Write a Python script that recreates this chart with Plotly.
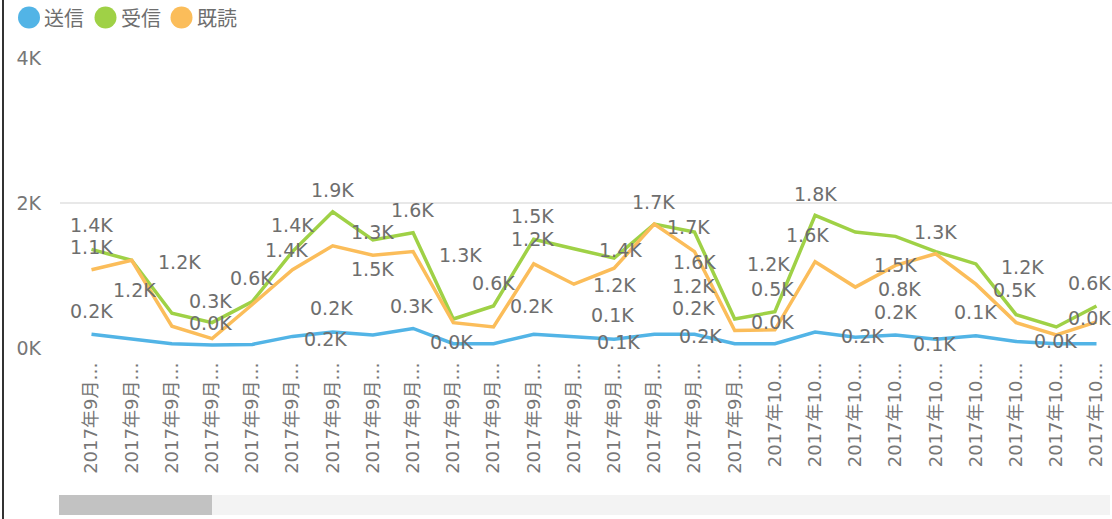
import plotly.graph_objects as go

# categories (truncated day labels as shown on the axis)
days = ['2017年9月…'] * 17 + ['2017年10…'] * 9

# values in K
sent = [0.19, 0.12, 0.06, 0.04, 0.05, 0.16, 0.22, 0.18, 0.27, 0.06, 0.06, 0.19, 0.15,
        0.12, 0.19, 0.19, 0.06, 0.06, 0.22, 0.15, 0.18, 0.12, 0.17, 0.09, 0.06, 0.06]
received = [1.36, 1.21, 0.48, 0.35, 0.64, 1.33, 1.88, 1.49, 1.59, 0.40, 0.58, 1.50, 1.37,
            1.24, 1.71, 1.60, 0.40, 0.50, 1.83, 1.60, 1.54, 1.33, 1.16, 0.46, 0.29, 0.58]
read = [1.08, 1.21, 0.30, 0.13, 0.60, 1.08, 1.41, 1.28, 1.33, 0.35, 0.29, 1.16, 0.88,
        1.10, 1.71, 1.33, 0.24, 0.25, 1.19, 0.84, 1.14, 1.30, 0.88, 0.35, 0.18, 0.36]

series_names = ['送信', '受信', '既読']
colors = ['#52b4e6', '#9fd146', '#fbbd5a']

# data labels as they appear (category index, K position, text)
lab_x = [0, 0, 0, 1.06, 2.18, 2.95, 2.95, 3.99, 5.01, 4.86, 6.0, 5.98, 5.81, 6.99, 6.99,
         7.99, 7.97, 9.17, 9.99, 8.96, 10.98, 10.98, 10.95, 13.15, 13.02, 12.97, 13.1,
         13.99, 14.84, 15.0, 14.98, 14.98, 15.15, 16.83, 16.95, 16.95, 18.0, 17.82, 19.17,
         20.0, 20.1, 19.99, 20.98, 21.0, 22.0, 23.15, 22.97, 23.97, 24.83, 24.83]
lab_y = [1.69, 1.39, 0.51, 0.80, 1.18, 0.65, 0.35, 0.96, 1.70, 1.35, 2.18, 0.55, 0.12,
         1.60, 1.09, 1.90, 0.58, 1.28, 0.89, 0.08, 1.82, 1.50, 0.58, 1.35, 0.87, 0.46,
         0.08, 2.01, 1.67, 1.19, 0.85, 0.55, 0.16, 1.16, 0.82, 0.36, 2.12, 1.56, 0.16,
         1.14, 0.82, 0.50, 0.06, 1.60, 0.50, 1.12, 0.80, 0.09, 0.89, 0.41]
lab_text = ['1.4K', '1.1K', '0.2K', '1.2K', '1.2K', '0.3K', '0.0K', '0.6K', '1.4K', '1.4K',
            '1.9K', '0.2K', '0.2K', '1.3K', '1.5K', '1.6K', '0.3K', '1.3K', '0.6K', '0.0K',
            '1.5K', '1.2K', '0.2K', '1.4K', '1.2K', '0.1K', '0.1K', '1.7K', '1.7K', '1.6K',
            '1.2K', '0.2K', '0.2K', '1.2K', '0.5K', '0.0K', '1.8K', '1.6K', '0.2K', '1.5K',
            '0.8K', '0.2K', '0.1K', '1.3K', '0.1K', '1.2K', '0.5K', '0.0K', '0.6K', '0.0K']

W, H = 1112, 519
ML, MR, MT, MB = 60, 0, 58, 171
PW, PH = W - ML - MR, H - MT - MB


def px_x(p):
    return (p - ML) / PW


def px_y(p):
    return (H - MB - p) / PH


xs = list(range(len(days)))
fig = go.Figure()
for name, vals, col in zip(series_names, [sent, received, read], colors):
    fig.add_trace(go.Scatter(
        x=xs, y=vals, mode='lines', name=name,
        line=dict(color=col, width=3.5),
        hoverinfo='skip', showlegend=False
    ))

label_font = dict(family='DejaVu Sans', size=19, color='#6e6e6e')
annotations = []
for lx, ly, lt in zip(lab_x, lab_y, lab_text):
    annotations.append(dict(x=lx, y=ly, xref='x', yref='y', text=lt, showarrow=False,
                            xanchor='center', yanchor='middle', font=label_font))

# legend drawn by hand (round swatches like the original)
shapes = []
legend_cx = [29, 105.5, 181.5]
for cx, name, col in zip(legend_cx, series_names, colors):
    shapes.append(dict(type='circle', xref='paper', yref='paper',
                       xsizemode='pixel', ysizemode='pixel',
                       xanchor=px_x(cx), yanchor=px_y(17.5),
                       x0=-11, x1=11, y0=-11, y1=11,
                       fillcolor=col, line=dict(width=0)))
    annotations.append(dict(x=px_x(cx + 13), y=px_y(17), xref='paper', yref='paper',
                            text=name, showarrow=False, xanchor='left', yanchor='middle',
                            font=dict(family='Noto Sans CJK JP', size=20, color='#6e6e6e')))

# scrollbar track + thumb
shapes.append(dict(type='rect', xref='paper', yref='paper', layer='below',
                   x0=px_x(59), x1=px_x(1110), y0=px_y(515), y1=px_y(495),
                   fillcolor='#f3f3f3', line=dict(width=0)))
shapes.append(dict(type='rect', xref='paper', yref='paper', layer='below',
                   x0=px_x(59), x1=px_x(212), y0=px_y(515), y1=px_y(495),
                   fillcolor='#c2c2c2', line=dict(width=0)))
# left frame edge
shapes.append(dict(type='line', xref='paper', yref='paper',
                   x0=px_x(3), x1=px_x(3), y0=px_y(0), y1=px_y(519),
                   line=dict(color='#333333', width=2)))

fig.update_layout(
    width=W, height=H,
    margin=dict(l=ML, r=MR, t=MT, b=MB),
    plot_bgcolor='white', paper_bgcolor='white',
    showlegend=False,
    annotations=annotations,
    shapes=shapes,
    xaxis=dict(
        tickvals=xs, ticktext=days, tickangle=-90,
        range=[-31.5 / 40.2, 25 + 15.5 / 40.2],
        showgrid=False, zeroline=False, showline=False, ticks='',
        ticklabelstandoff=10,
        tickfont=dict(family='DejaVu Sans, Noto Sans CJK JP', size=18, color='#777777')
    ),
    yaxis=dict(
        range=[0, 4], tickvals=[0, 2, 4], ticktext=['0K', '2K', '4K'],
        showgrid=True, gridcolor='#e8e8e8', gridwidth=1.5,
        zeroline=False, showline=False, ticks='',
        ticklabelstandoff=18,
        tickfont=dict(family='DejaVu Sans', size=19, color='#777777')
    ),
)

# drop the page's default body margin so the figure sits at the window corner
fig.write_html('out.html', config={'displayModeBar': False},
               post_script="document.body.style.margin='0';document.body.style.overflow='hidden';")
